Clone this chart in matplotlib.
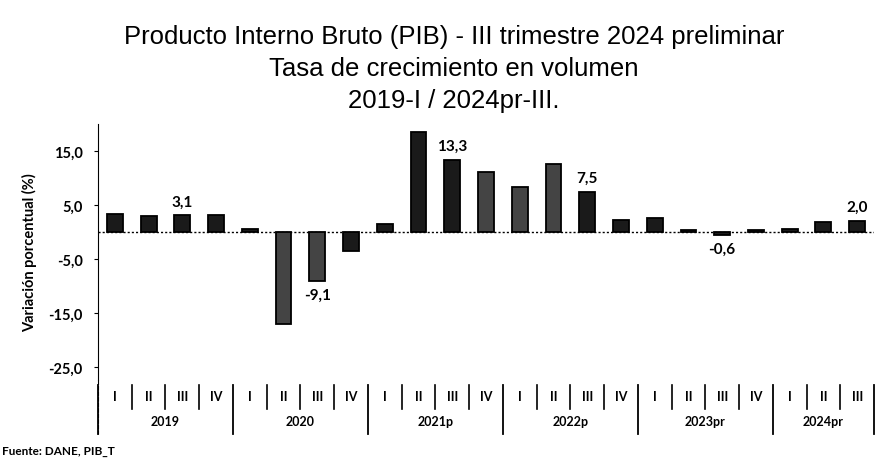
import matplotlib
matplotlib.use("Agg")
import matplotlib.pyplot as plt

years = ["2019", "2020", "2021p", "2022p", "2023pr", "2024pr"]
quarters = ["I", "II", "III", "IV"]
n_quarters = [4, 4, 4, 4, 4, 3]
values = [3.4, 3.0, 3.1, 3.2,
          0.6, -17.1, -9.1, -3.5,
          1.5, 18.6, 13.3, 11.1,
          8.4, 12.6, 7.5, 2.2,
          2.6, 0.4, -0.6, 0.4,
          0.6, 1.9, 2.0]
labels = {2: "3,1", 6: "-9,1", 10: "13,3", 14: "7,5", 18: "-0,6", 22: "2,0"}
yticks = [15, 5, -5, -15, -25]
ytick_labels = ["15,0", "5,0", "-5,0", "-15,0", "-25,0"]

shade = ['#1a1a1a'] * len(values)
for i in (5, 6, 11, 12, 13):
    shade[i] = '#444444'

fig = plt.figure(figsize=(8.75, 4.64), dpi=100)
ax = fig.add_axes([98/875, 1-381/464, 776/875, 256/464])

x = list(range(len(values)))
ax.bar(x, values, width=0.47, color=shade, edgecolor='black', linewidth=1.3, zorder=3)
ax.axhline(0, color='black', linewidth=1.0, linestyle=(0, (1.5, 1.5)), zorder=2)

ax.set_xlim(-0.5, len(values) - 0.5)
ax.set_ylim(-27.4, 20.0)
ax.set_yticks(yticks)
ax.set_yticklabels(ytick_labels, fontsize=10.5, fontweight='bold', family='Lato')
ax.tick_params(axis='y', length=3, width=0.8, pad=8)
ax.set_xticks([])
for s in ['top', 'right', 'bottom']:
    ax.spines[s].set_visible(False)
ax.spines['left'].set_linewidth(0.8)
ax.spines['left'].set_linestyle((0, (4, 1)))

ax.set_ylabel("Variación porcentual (%)", fontsize=10.5, fontweight='bold', family='Lato', labelpad=8)

# data labels
for i, t in labels.items():
    v = values[i]
    if v >= 0:
        ax.annotate(t, (i, v), xytext=(0, 5), textcoords='offset points', ha='center', va='bottom',
                    fontsize=11, fontweight='bold', family='Lato')
    else:
        ax.annotate(t, (i, v), xytext=(0, -5), textcoords='offset points', ha='center', va='top',
                    fontsize=11, fontweight='bold', family='Lato')

# multi-level category axis
tr = ax.get_xaxis_transform()
pos = 0
for yi, (yr, nq) in enumerate(zip(years, n_quarters)):
    for q in range(nq):
        ax.text(pos + q, -0.063, quarters[q], transform=tr, ha='center', va='center',
                fontsize=9, fontweight='bold', family='Lato', clip_on=False)
        if q > 0:
            ax.plot([pos + q - 0.5] * 2, [-0.02, -0.115], transform=tr, color='black',
                    linewidth=1.2, clip_on=False)
    ax.text(pos + (nq - 1) / 2, -0.16, yr, transform=tr, ha='center', va='center',
            fontsize=9, fontweight='bold', family='Lato', clip_on=False)
    ax.plot([pos - 0.5] * 2, [-0.02, -0.21], transform=tr, color='black',
            linewidth=1.3, clip_on=False)
    pos += nq
ax.plot([pos - 0.5] * 2, [-0.02, -0.21], transform=tr, color='black', linewidth=1.3, clip_on=False)
ax.plot([-0.5] * 2, [0, -0.21], transform=tr, color='black', linewidth=0.8,
        linestyle=(0, (4, 1)), clip_on=False)

title_kw = dict(ha='center', va='center', fontsize=18.5, family='Liberation Sans')
fig.text(454/875, 1-37/464, "Producto Interno Bruto (PIB) - III trimestre 2024 preliminar", **title_kw)
fig.text(454/875, 1-69/464, "Tasa de crecimiento en volumen", **title_kw)
fig.text(454/875, 1-101/464, "2019-I / 2024pr-III.", **title_kw)
fig.text(2/875, 1-452/464, "Fuente: DANE, PIB_T", ha='left', va='center',
         fontsize=8.5, fontweight='bold', family='Lato')

fig.savefig("out.png", dpi=100)
